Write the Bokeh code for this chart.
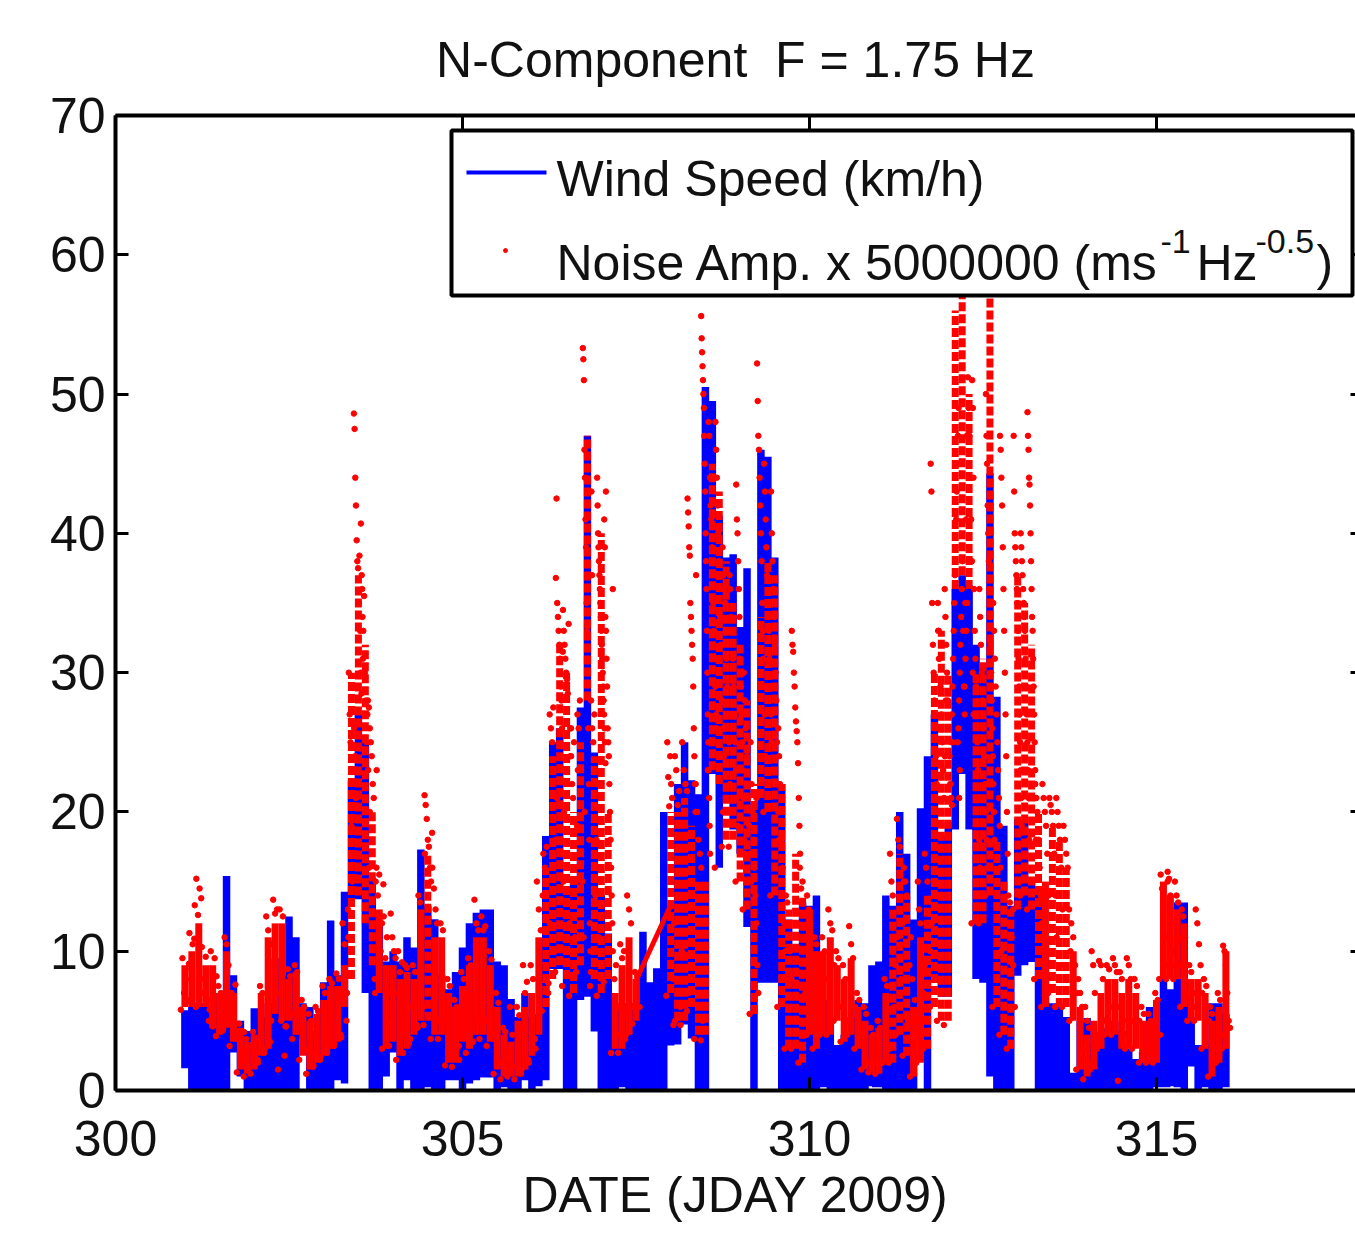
from bokeh.plotting import figure
from bokeh.models import BoxAnnotation, Label, LinearAxis, FixedTicker, Range1d
from bokeh.embed import file_html
from bokeh.resources import INLINE

n = float("nan")
title_text = "N-Component \u00a0F = 1.75 Hz"
x_label = "DATE (JDAY 2009)"
x_ticks = [300, 305, 310, 315]
y_ticks = [0, 10, 20, 30, 40, 50, 60, 70]
first_day = 301.0
day_step = 0.1

wind_hi = [5.5,6,6,6,5.5,7,15.4,8,5,4,
 5.9,5,6,9.5,8,12.5,11,6,6,4,
 7.5,12.2,8,8,22,27,25,15,12,9,
 10,9,11,10,17.3,13,12.3,8,7,8.5,
 10,12,12.5,13,13,9,9,6.3,5,7,
 5,5.5,18,25,26,14,15,27.5,47,24,
 14,11,6,6,6,6,11.4,7.5,8.5,20,
 13,22,25,22,21,50.5,49.5,41,38,38.5,
 33,37.5,20,46,45.5,38,22,12,10,13.5,
 13,14,6.5,5,3,4,5,6.5,6,9,
 9,14,13,20,17,12,20,24,27,18,
 19,36,37,36,32,30,44.3,28,19,13,
 19.5,19,15,14,11,6,6,5,1,5,
 5.2,3,3.5,4.5,5,4,3,2,2.5,6,
 5,8,7,13.5,13.5,5,3,3,6,6,
 5.5]
wind_lo = [1.6,0,0,0,0,0,0,3,1,0,
 0,0,0,0,0,0,0,4,0,0,
 0,0,1,0.5,14,14,7,0,0,1,
 3,0,1,0,0,0.5,0,0,1,1,
 0,0.5,1,1.2,1.2,0,0.5,0,0,1,
 0,0.3,1,9,9,0,0,6.5,7,4.5,
 0,0,0,0.5,0,0.3,0,0,0,0,
 3.5,3.3,5,4,0,0,23,16,21,19,
 17,12,0,8,8,8,0,0,0,0,
 0,0,0.5,0,0,0,0,0,0,0.3,
 0.5,0.3,0,0,0,0,4,0,8,7,
 7,19,23,19,8,8,1,0,0,0,
 8.5,9,9.5,0,0.2,0,0,0,0,0,
 0,0,0,0,0,0,0,0,0,0,
 0.5,0.5,0.3,0.5,0,2,0,0.5,0,0,
 0.5]

noise_core_lo = [6,6,6,6,4.5,4,4.5,3.5,1.5,1.2,
 1.5,2.5,3,5.5,5,5,4,2.5,1.5,2,
 2.5,3,3.5,6,8,14,12,9,7,3,
 3.5,2.5,3,4,5,5,4,4,2,2,
 3.5,3,4,4,3.5,1.5,1,1,1,1.5,
 2.5,4,6,8,9,8,7,9,28,8,
 7,8,3,3,4,5,n,n,n,n,
 7,5,5,6,4,4,23,22,18,18,
 15,13,5.5,21,20,14,6,3,3,2,
 4,3,4,4,5,3.5,4,3,1.5,1.3,
 1.2,2,2,4,2.5,1,2,3,6,5,
 5,36,37,36,12,12,14,6,4,3,
 13,14,13,8,6,7,6,6,5,1.5,
 1,1.5,3,4,4,3,3,3,2,2,
 2,8,8,8,6,5,5,3,1,2,
 3]
noise_core_hi = [9,10,12,9,9,7,10,7,4.5,3.5,
 4,7,11,12,12,8,8.5,6,5,5.5,
 6.5,7.5,7.5,9,30,37,32,20,13,9,
 9,8,8.5,8,13,17,11,11,7,6,
 7.5,9,11,11,9,6,4,3.5,5,6,
 7,11,16,24,32,30,20,25,47,24,
 40,20,7,9,11,8,n,n,n,n,
 20,20,21,19,15,15,45,43,38,35,
 32,28,22,34,38,37,22,13,17,14,
 13,10,10,11,9,8,9.5,6,5,4,
 4.5,7,13,17,14,6,11,14,30,33,
 30,56,58,50,30,31,58,18,15,13,
 37,35,32,20,15,19,18,16,10,6,
 4,5,7,8,8,7,8,7,5,5,
 6.5,15,14,13,12,8,8,7,5,6,
 10]

noise_gap_x = [307.5, 308.0]
noise_gap_y = [7.9, 13.3]

noise_dots = [
 [5.8,9.5,7,8.7,6.4,9.1],[6.5,11.3,8,10.5,10.9,6],[13.3,15.2,12.6,14.5,13.8,7],[10.3,8,9.6,6.5,5.8],[5,10,4.6,9.5,8.2],[3.9,7.5,7,4.4],[4.3,11,10.5,9,5],[3.2,7,6.4,7.6,3.7],[1.3,4.8,2,4.2],[1,3.7,1.6,3.1],
 [1.2,4.2,3.6,2],[2.2,7.5,7,3],[2.7,12.5,11.5,3.5,10.5],[5,13.7,12.7,13,7],[1.5,13,5,12.5,2.5,4.6],[4.6,8.7,8.2,5.5],[3.7,9,8.5,4.6],[2.2,6.5,6,3],[1.2,5.5,5,1.8],[1.7,6,5.7,2.4],
 [2.2,7.5,7,3],[2.7,8,7.7,3.4],[3.2,8.4,8,3.8],[4,12,10.5,5,11],[7,13,30,27,25,19,15,29,26,24,21],[48.6,47.5,44,42,39.5,38,37.5,35,38.4,33,30,28.5,36,31],[40.7,37,34,33,35.5,30,28,25,27,23,16,20],[28,27.5,26,25,24,22,21,8,15,23],[7,16,14,15.5,10,12,14.8],[3,12.5,9.5,11,5,7],
 [3.2,12.7,11,10,9.5,7],[2.2,10,8.5,9.2,4],[2.7,9,8.8,3.4,6],[3.7,9,8.5,4.5],[4.7,14,13.5,11,6,17],[4.7,21.2,20.5,19.5,18,17.5,16,15,18.5],[3.7,16,14.5,13,12,5],[3.7,12,11.5,5],[1.8,8,7.5,2.5],[1.7,6.5,6,2.2],
 [3.2,8.5,8,4],[2.7,9.5,9,3.5],[3.5,13.7,12,11.5,5],[3.7,12.5,11.5,11.8,5],[3.2,10,9.4,4],[1.2,7,6.3,2],[0.8,4.5,4.2,1.5],[1,6,4,1.7],[0.8,6,5.4,1.5],[1.2,9,7,7.8,2],
 [2.2,9,8,3],[3.7,15,13,11.5,14],[5.7,17,16,17.5,7,12],[7.7,27,26,25,27.5,10,18,21],[8.5,36.8,42.5,35,34,33,32,31,29,28,26,31.5,15,20],[7.5,34.5,33,32,31,30,29.5,28.5,33.5,12,24,26],[6.8,26,24,22,21,25,11,15,19,23],[8.5,27,26,28,23,15,11,20],[53.3,52.5,51,46,44,41,39,35,33,30,26,22,18,12,10,8.5,43,37],[7.5,28,26,25,27,14,18,22,11],
 [6.8,44,42,40,39,38,37,36,35,34,33,32,31,30,29,28,27,26,25,23.5,43],[7.8,41,39,34,33,31,29,26,25,24,22,20,18,16,14,12,36],[2.7,10,8,9,4,6],[2.7,10.5,9.5,10,4],[3.7,14,13,12,6],[4.8,8.5,8.2,6],[],[],[],[],
 [6.8,25,22.5,20.4,24,22,21,8,12,5],[4.7,24,23,20.5,21.5,6,10],[4.7,25,23,22,21.5,7],[5.7,42.5,41.5,40.5,39,38.4,35,34,33,32,31,29,26,24,22,20,37],[3.7,22,20,18,17,16,5],[3.6,55.6,54,53,52,51,50,49,47,45,43,40,38,36,33,30,27,25,23,21,19,17],[23,48,47,44,42,41,39,37,35,33,31,29,27,26],[16,48,46,44,42,40,38,36,34,32,28,26,20,24],[17.5,39,37,36,35,33,31,29,27,25,22,20],[17.5,37,36,34,33,31,29,27,25,23,21,19],
 [15,43.5,41,40,38,36,34,31,29,27,25,23,21,18,17],[13,30,28,26,24,21,19,17,15],[5.5,25,22,20,18,16,14,12,9,7],[21,52.2,49.5,47,46,44,42,40,38,35,33,31,29,27,24],[20,45,43,41,39,37,35,33,31,29,27,25,23],[14,43,40,38,36,34,32,30,28,25,22,20,18],[6,26,24,22,20,18,16,14,12,10,8],[3,14,13.5,12,10,8,5],[3,33,32,31.5,30,29,27.5,26.5,25.8,25,23.5,21,19,17],[2,16,14.5,15,10,7,4],
 [4,14,13,12,9,7],[3,11,10.5,9,5],[4,11,10,8],[4,13,12,11.5,9],[5,10,9.5,6],[3.5,9,8,5],[4,11.8,10.5,9.5,6],[3,7,6.5,4],[1.5,6,5.5,2],[1.3,4.5,4,2],
 [1.2,5,4.5,2],[2,8,7.5,3],[2,17,15,14,6,9,11],[4,19.5,18,17.5,8,12,15],[2.5,16,15,14,5,9,11],[1,8,6.5,2.5],[2,15,13,12,4,7,9],[3,17,16,15,6,10,12],[6,45,43,35,32,30,28,26,24,22,20,33,31],[5,35,33,31,29,27,25,23,21,24,28],
 [4.7,36,34,32,30,28,26,24,22,21,20.5,25],[22,25,27,29,31,33,35,37,39,41,43,45,47,49,21,23],[25,26,28,30,32,34,36,38,33,29,27,35,41,47],[29,31,33,35,51.2,49,47,44,41,38,30,27],[12,51,49,44,36,33,31,29,27,25,23,21,18,16,14],[12,36,34,32,30,28,26,24,22,20,18,16],[14,50,47,45,42,40,38,36,34,32,30,28,26,24,22,20,18],[6,35,33,31,29,27,25,23,21,19,16,10],[4,47,46,44,42,39,36,33,30,27,24,20,17,12],[3,14,13.5,11,9,6],
 [13,47,43,40,39,38,37,36,35,33,31,29,27,25,23,21,19,16],[14,40,39,38,37,36,35,34,33,31,29,27,25,23,21,18],[13,48.7,47,46,44,43.5,42,40,38,36,34,33,31,29,27,25,23,21,18],[8,22,21,20,18,16,14,12,10],[6,22,21,20,19,17,14,10],[7,21,20.5,20,19,17,14,11],[6,21,20,19,18,16,13,9],[6,19,18,17,16,13,10],[5,12,11,9,7],[1.5,8,7,6,3],
 [0.8,6,5,4.5,2],[1.5,10,9,7,3,4],[3,9.3,9,8,5],[4,9,8.7,6],[4,9.5,9,8.5,6],[0.7,8.5,8,5,4],[3,9.5,9,8,5],[3,8,7.5,5],[2,6,5.5,3],[2,5.5,5,3],
 [2,7,6.5,4],[8,15.5,14.5,13,11,9,15],[8,15.7,15.2,14,12,10,9],[8,15,14,13.5,11,9],[6,13,12.5,11,9,7],[5,9,8.5,7,6],[5,13,12,10.5,9,7],[3,8,7.5,5],[1,6,5.5,3,2],[2,7,6.5,4],
 [3,10.4,10,9,7,5,4.5],
]

X0, Y0, PX_PER_DAY, PX_PER_UNIT = 115, 1090, 69.4, 13.93
def data_x(px): return 300 + (px - X0) / PX_PER_DAY
def data_y(py): return (Y0 - py) / PX_PER_UNIT

days = [first_day + i * day_step for i in range(len(wind_hi))]

# one continuous line: up or down through each column, then across inside the overlap
wind_x, wind_y = [], []
for i, d in enumerate(days):
    up = i % 2 == 0
    a, b = (wind_lo[i], wind_hi[i]) if up else (wind_hi[i], wind_lo[i])
    wind_x += [d, d]
    wind_y += [a, b]
    if i + 1 < len(days):
        if up:
            cross = min(wind_hi[i], wind_hi[i + 1])
        else:
            cross = max(wind_lo[i], wind_lo[i + 1])
        wind_x += [d, days[i + 1]]
        wind_y += [cross, cross]

dot_x, dot_y = [], []
for d, col in zip(days, noise_dots):
    for k, v in enumerate(col):
        dot_x.append(d - 0.7 * day_step + 1.4 * day_step * (k + 0.5) / len(col))
        dot_y.append(v)

solid_d, solid_lo, solid_hi, speck_d, speck_lo, speck_hi = [], [], [], [], [], []
for d, lo, hi in zip(days, noise_core_lo, noise_core_hi):
    if hi - lo > 9:
        speck_d.append(d); speck_lo.append(lo); speck_hi.append(hi)
    else:
        solid_d.append(d); solid_lo.append(lo); solid_hi.append(hi)

FONT = "Liberation Sans"
p = figure(width=1355, height=1234, output_backend="svg", toolbar_location=None,
           x_range=Range1d(300, data_x(1355)), y_range=Range1d(0, 70),
           min_border_left=115, min_border_top=115, min_border_bottom=144, min_border_right=0,
           outline_line_color=None, background_fill_color="white")
p.grid.visible = False

p.title.text = title_text
p.title.align = "center"
p.title.text_font = FONT
p.title.text_font_size = "50px"
p.title.text_font_style = "normal"
p.title.text_color = "#111111"
p.title.standoff = 56

for ax in (p.xaxis[0], p.yaxis[0]):
    ax.axis_line_color = "black"
    ax.axis_line_width = 4
    ax.major_tick_line_color = "black"
    ax.major_tick_line_width = 3
    ax.major_tick_in = 13
    ax.major_tick_out = 0
    ax.minor_tick_line_color = None
    ax.major_label_text_font = FONT
    ax.major_label_text_font_size = "50px"
    ax.major_label_text_color = "#111111"
    ax.axis_label_text_font = FONT
    ax.axis_label_text_font_style = "normal"
    ax.axis_label_text_font_size = "50px"
    ax.axis_label_text_color = "#111111"
p.xaxis[0].ticker = FixedTicker(ticks=x_ticks)
p.yaxis[0].ticker = FixedTicker(ticks=y_ticks)
p.xaxis[0].axis_label = x_label
p.xaxis[0].major_label_standoff = 30
p.xaxis[0].axis_label_standoff = 8
p.yaxis[0].major_label_standoff = 10

top = LinearAxis(ticker=FixedTicker(ticks=x_ticks), major_label_text_font_size="0px",
                 major_label_text_color=None, axis_line_color="black", axis_line_width=4,
                 major_tick_line_color="black", major_tick_line_width=3,
                 major_tick_in=16, major_tick_out=0, minor_tick_line_color=None)
p.add_layout(top, "above")
right = LinearAxis(ticker=FixedTicker(ticks=y_ticks), major_label_text_font_size="0px",
                   major_label_text_color=None, axis_line_color=None,
                   major_tick_line_color="black", major_tick_line_width=3,
                   major_tick_in=5, major_tick_out=0, minor_tick_line_color=None)
p.add_layout(right, "right")

p.line(wind_x, wind_y, line_color="#0000ff", line_width=7.5, line_join="miter")
p.segment(solid_d, solid_lo, solid_d, solid_hi, line_color="#ff0000", line_width=7)
p.segment(speck_d, speck_lo, speck_d, speck_hi, line_color="#ff0000", line_width=7, line_dash="9 3")
p.line(noise_gap_x, noise_gap_y, line_color="#ff0000", line_width=5)
p.scatter(dot_x, dot_y, size=5.5, color="#ff0000", marker="circle")

# legend
box = BoxAnnotation(left=data_x(451), right=data_x(1352), top=data_y(130), bottom=data_y(295),
                    fill_color="white", fill_alpha=1, line_color="black", line_alpha=1, line_width=4,
                    level="annotation")
p.add_layout(box)
p.line([data_x(466), data_x(546)], [data_y(172), data_y(172)], line_color="#0000ff",
       line_width=4, level="overlay")
p.scatter([data_x(505)], [data_y(250)], size=4, color="#ff0000", level="overlay")

def txt(s, px, py, size=50):
    p.add_layout(Label(x=data_x(px), y=data_y(py), text=s, text_font=FONT, text_font_size=f"{size}px",
                       text_baseline="middle", text_align="left", text_color="#111111",
                       level="overlay"))
txt("Wind Speed (km/h)", 556, 178)
txt("Noise Amp. x 5000000 (ms", 556, 262)
txt("-1", 1160, 241, 34)
txt("Hz", 1196, 262)
txt("-0.5", 1255, 241, 34)
txt(")", 1316, 262)

open("out.html", "w").write(file_html(p, INLINE))
